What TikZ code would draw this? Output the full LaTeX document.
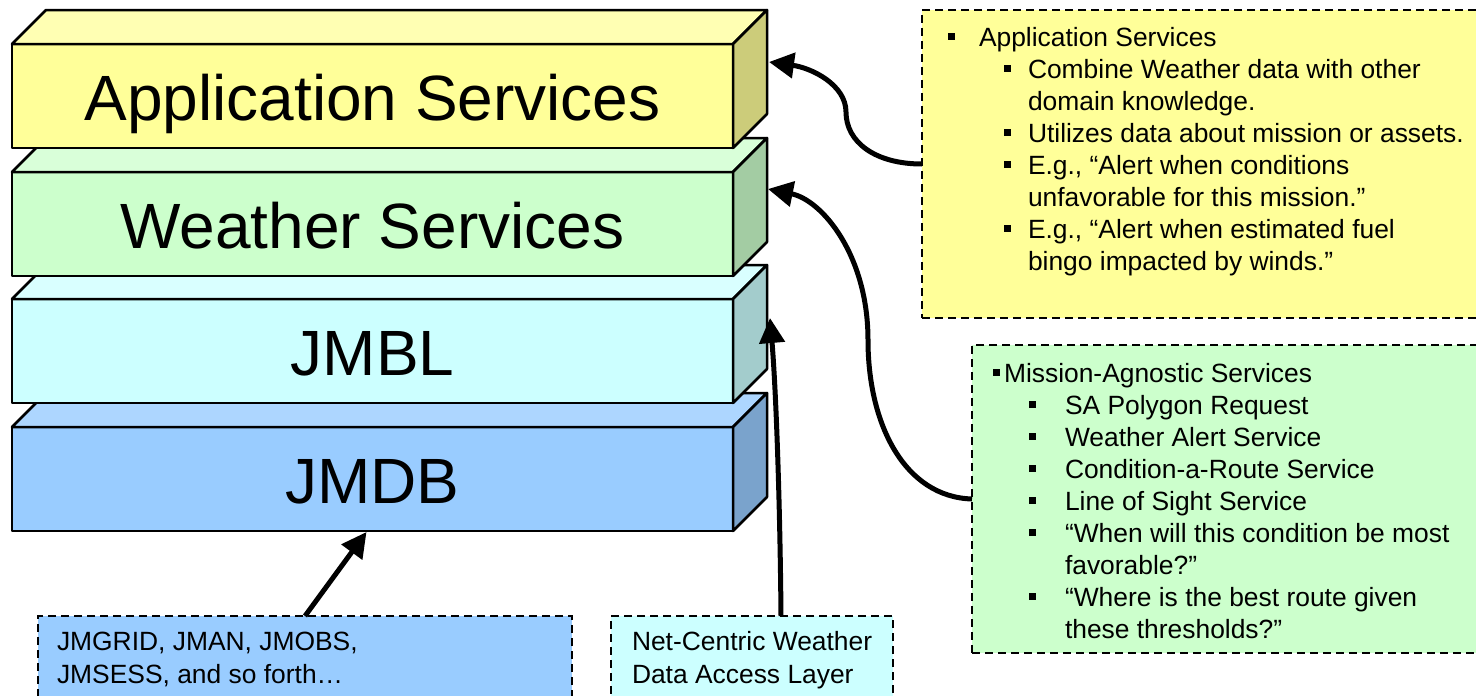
\documentclass[tikz,border=0pt]{standalone}
\usepackage{fontspec}
\setmainfont{Liberation Sans}
\usetikzlibrary{arrows.meta,calc}

% layer colours: front face, top face, side face
\definecolor{appfront}{HTML}{FFFF99}
\definecolor{apptop}{HTML}{FFFFB3}
\definecolor{appside}{HTML}{CCCC7A}
\definecolor{wsfront}{HTML}{CCFFCC}
\definecolor{wstop}{HTML}{D9FFD9}
\definecolor{wsside}{HTML}{A3CCA3}
\definecolor{mbfront}{HTML}{CCFFFF}
\definecolor{mbtop}{HTML}{D9FFFF}
\definecolor{mbside}{HTML}{A3CCCC}
\definecolor{dbfront}{HTML}{99CCFF}
\definecolor{dbtop}{HTML}{ADD6FF}
\definecolor{dbside}{HTML}{7AA3CC}

% small square bullet, and a bulleted line with a fixed hanging indent
\newcommand\sqbullet{\raisebox{6.5pt}{\rule{7pt}{7pt}}}
\newcommand\bline[2]{\makebox[#1pt][l]{\sqbullet}#2}

% one stacked layer: front face as a node, then its top and side faces
% #1 name, #2 front centre y, #3 front, #4 top, #5 side, #6 label
\newcommand\layerbox[6]{%
  \node[layer, fill=#3] (#1) at (372.5,#2) {#6};
  \filldraw[face, fill=#4] (#1.north west) -- ++(34,-34) -- ++(721,0) -- (#1.north east) -- cycle;
  \filldraw[face, fill=#5] (#1.north east) -- ++(34,-34) -- ++(0,104) -- (#1.south east) -- cycle;
}

\tikzset{
  face/.style={draw=black, line width=2.5pt, line join=round},
  layer/.style={face, rectangle, minimum width=721pt, minimum height=104pt,
    inner sep=0pt, outer sep=0pt, font=\fontsize{64}{64}\selectfont,
    text height=48pt, text depth=0pt},
  note/.style={draw=black, line width=2.5pt, dash pattern=on 8pt off 5pt,
    rectangle, inner sep=0pt, outer sep=0pt},
  linetext/.style={anchor=base west, inner sep=0pt, outer sep=0pt,
    font=\fontsize{26.4}{32}\selectfont},
  conn/.style={line width=5pt, -{Triangle[length=25pt,width=25pt]}},
}

\begin{document}
\begin{tikzpicture}[x=1pt, y=-1pt]
\useasboundingbox (0,0) rectangle (1476,696);
\clip (0,0) rectangle (1476,696);
\fill[white] (0,0) rectangle (1476,696);

% stacked layers, drawn from the bottom up
\layerbox{db}{479}{dbfront}{dbtop}{dbside}{JMDB}
\layerbox{mb}{351}{mbfront}{mbtop}{mbside}{JMBL}
\layerbox{ws}{224}{wsfront}{wstop}{wsside}{Weather Services}
\layerbox{app}{96}{appfront}{apptop}{appside}{Application Services}

% annotation boxes
\node[note, fill=appfront, minimum width=578pt, minimum height=308pt] (appnote) at (1211,164) {};
\node[note, fill=wsfront, minimum width=528pt, minimum height=308pt] (wsnote) at (1236,499) {};
\node[note, fill=dbfront, minimum width=534pt, minimum height=120pt] (srcnote) at (305,676) {};
\node[note, fill=mbfront, minimum width=282pt, minimum height=120pt] (nwnote) at (752,676) {};

% application services notes
\node[linetext] (a1) at (948,46) {\bline{31}{Application Services}};
\node[linetext] (a2) at (1004,78) {\bline{24}{Combine Weather data with other}};
\node[linetext] (a3) at (1028,110) {domain knowledge.};
\node[linetext] (a4) at (1004,142) {\bline{24}{Utilizes data about mission or assets.}};
\node[linetext] (a5) at (1004,174) {\bline{24}{E.g., “Alert when conditions}};
\node[linetext] (a6) at (1028,206) {unfavorable for this mission.”};
\node[linetext] (a7) at (1004,238) {\bline{24}{E.g., “Alert when estimated fuel}};
\node[linetext] (a8) at (1028,270) {bingo impacted by winds.”};

% mission-agnostic services notes
\node[linetext] (b1) at (993,382) {\bline{11}{Mission-Agnostic Services}};
\node[linetext] (b2) at (1029,414) {\bline{36}{SA Polygon Request}};
\node[linetext] (b3) at (1029,446) {\bline{36}{Weather Alert Service}};
\node[linetext] (b4) at (1029,478) {\bline{36}{Condition-a-Route Service}};
\node[linetext] (b5) at (1029,510) {\bline{36}{Line of Sight Service}};
\node[linetext] (b6) at (1029,542) {\bline{36}{“When will this condition be most}};
\node[linetext] (b7) at (1065,574) {favorable?”};
\node[linetext] (b8) at (1029,606) {\bline{36}{“Where is the best route given}};
\node[linetext] (b9) at (1065,638) {these thresholds?”};

% data sources
\node[linetext] (c1) at (57,650) {JMGRID, JMAN, JMOBS,};
\node[linetext] (c2) at (57,683) {JMSESS, and so forth…};
\node[linetext] (d1) at (632,650) {Net-Centric Weather};
\node[linetext] (d2) at (632,683) {Data Access Layer};

% connector end points on the layers
\coordinate (apptip) at ($(app.east)+(36,-34)$);
\coordinate (wstip) at ($(ws.east)+(35,-35)$);
\coordinate (mbtip) at ($(mb.east)+(37,-33)$);
\coordinate (dbtip) at ($(db.south)+(-6,1)$);
\coordinate (nwstart) at ($(nwnote.north)+(29,0)$);
\coordinate (abend) at (846,112);
\coordinate (bbend) at (868,340);

% connectors
\draw[conn] (appnote.west) .. controls (875,164) and (846,142) .. (abend)
  .. controls (846,85) and (812,68) .. (apptip);
\draw[conn] (wsnote.west) .. controls (905,497) and (868,425) .. (bbend)
  .. controls (868,255) and (822,200) .. (wstip);
\draw[conn] (nwstart) .. controls (780,500) and (776,390) .. (mbtip);
\draw[conn] (srcnote.north) -- (dbtip);
\end{tikzpicture}
\end{document}
